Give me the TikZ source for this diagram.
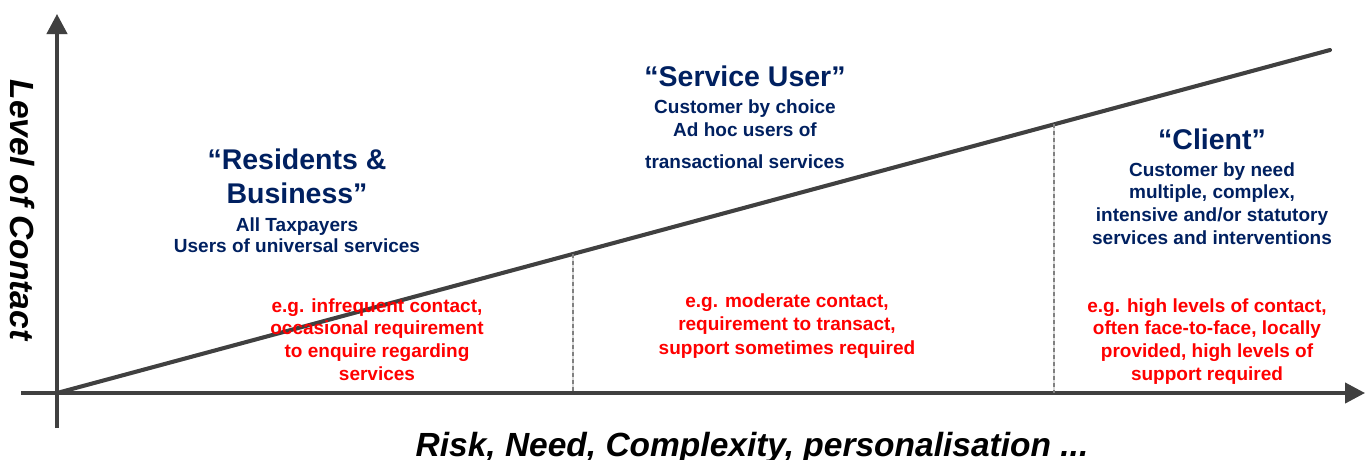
\documentclass[tikz,border=0pt]{standalone}
\usepackage{fontspec}
\setmainfont{Liberation Sans}
\usetikzlibrary{arrows.meta,calc}
\definecolor{navy}{RGB}{0,32,96}
\definecolor{axisgray}{RGB}{64,64,64}
\definecolor{shadowgray}{RGB}{218,218,218}
\begin{document}
\begin{tikzpicture}[x=1pt,y=-1pt,
  axis/.style={draw=axisgray,line width=4pt},
  tipped/.style={-{Triangle[length=20pt,width=20pt]}},
  shade/.style={draw=shadowgray,line width=4pt,xshift=2.5pt,yshift=-3.5pt},
  divider/.style={draw=gray,line width=1.2pt,dash pattern=on 4pt off 3pt},
  divshade/.style={draw=shadowgray,line width=1.2pt,xshift=2.5pt,yshift=-2pt},
  head/.style={text=navy,font=\fontsize{28.5}{34}\selectfont\bfseries,inner sep=0pt,anchor=base},
  sub/.style={text=navy,font=\fontsize{19}{23}\selectfont\bfseries,inner sep=0pt,anchor=base},
  note/.style={text=red,font=\fontsize{19}{23}\selectfont\bfseries,inner sep=0pt,anchor=base},
  axislabel/.style={font=\fontsize{33.5}{40}\selectfont\bfseries\itshape,inner sep=0pt}]
\useasboundingbox (0,0) rectangle (1369,459);

% axis end points and the rising line
\coordinate (O) at (57,393);
\coordinate (ytop) at (57,14);
\coordinate (ybot) at (57,428);
\coordinate (xleft) at (21,393);
\coordinate (xright) at (1365,393);
\coordinate (D) at (1330,50);
\coordinate (d1) at ($(O)!{(573-57)/(1330-57)}!(D)$);
\coordinate (d2) at ($(O)!{(1054-57)/(1330-57)}!(D)$);

% soft drop shadows
\draw[shade,tipped] (ybot) -- (ytop);
\draw[shade,tipped] (xleft) -- (xright);
\draw[shade] (O) -- (D);
\draw[divshade] (d1) -- (d1 |- O);
\draw[divshade] (d2) -- (d2 |- O);

% axes
\draw[axis,tipped] (ybot) -- (ytop);
\draw[axis,tipped] (xleft) -- (xright);
% rising contact line
\draw[axis,line cap=round] (O) -- (D);
% segment dividers
\draw[divider] (d1) -- (d1 |- O);
\draw[divider] (d2) -- (d2 |- O);

% axis labels
\node[axislabel,rotate=-90] (ylabel) at (22,210) {Level of Contact};
\node[axislabel,anchor=base] (xlabel) at (752,456) {Risk, Need, Complexity, personalisation ...};

% residents & business
\node[head] (res1) at (297,169) {“Residents \&};
\node[head] (res2) at (297,203) {Business”};
\node[sub] (res3) at (297,231) {All Taxpayers};
\node[sub] (res4) at (297,252) {Users of universal services};

% service user
\node[head] (su1) at (745,86) {“Service User”};
\node[sub] (su2) at (745,113) {Customer by choice};
\node[sub] (su3) at (745,136) {Ad hoc users of};
\node[sub] (su4) at (745,168) {transactional services};

% client
\node[head] (cl1) at (1212,149) {“Client”};
\node[sub] (cl2) at (1212,176) {Customer by need};
\node[sub] (cl3) at (1212,198) {multiple, complex,};
\node[sub] (cl4) at (1212,221) {intensive and/or statutory};
\node[sub] (cl5) at (1212,244) {services and interventions};

% examples
\node[note] (n1a) at (377,312) {e.g. infrequent contact,};
\node[note] (n1b) at (377,334) {occasional requirement};
\node[note] (n1c) at (377,357) {to enquire regarding};
\node[note] (n1d) at (377,380) {services};

\node[note] (n2a) at (787,307) {e.g. moderate contact,};
\node[note] (n2b) at (787,330) {requirement to transact,};
\node[note] (n2c) at (787,354) {support sometimes required};

\node[note] (n3a) at (1207,312) {e.g. high levels of contact,};
\node[note] (n3b) at (1207,334) {often face-to-face, locally};
\node[note] (n3c) at (1207,357) {provided, high levels of};
\node[note] (n3d) at (1207,380) {support required};
\end{tikzpicture}
\end{document}
